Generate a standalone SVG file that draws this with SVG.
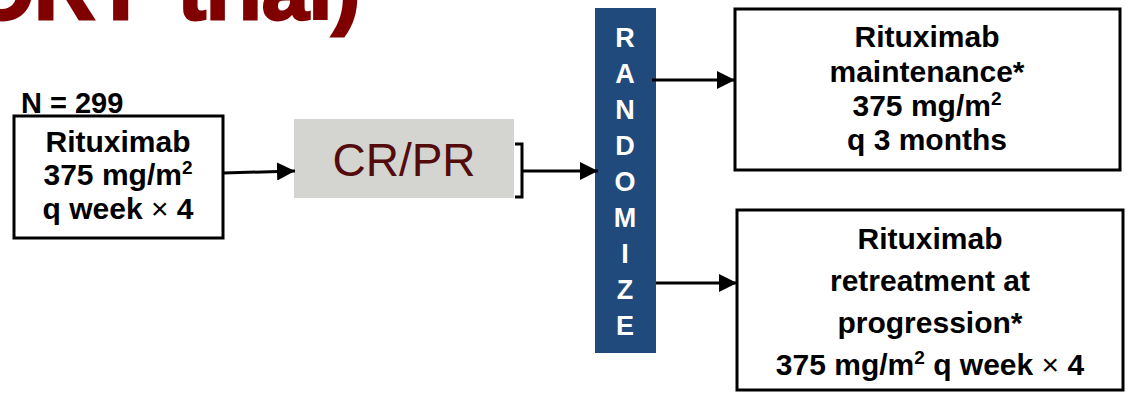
<svg xmlns="http://www.w3.org/2000/svg" width="1127" height="398" viewBox="0 0 1127 398">
<style>
.box{fill:#fff;stroke:#000;stroke-width:3}
.t{font-family:"Liberation Sans",Arial,sans-serif;font-weight:bold;font-size:30px;fill:#000;text-anchor:middle}
.rl{font-family:"Liberation Sans",Arial,sans-serif;font-weight:bold;font-size:27px;fill:#fff;text-anchor:middle}
.ln{stroke:#000;stroke-width:3;fill:none}
.sup{font-size:19px}
.x{font-weight:normal}
</style>
<defs>
<marker id="ah" viewBox="0 0 10 10" refX="10" refY="5" markerWidth="6" markerHeight="6" markerUnits="strokeWidth" orient="auto">
<path d="M0,0 L10,5 L0,10 z" fill="#000"/>
</marker>
</defs>
<g id="title">
<text y="19" font-family="'Liberation Sans',Arial,sans-serif" font-weight="bold" font-size="84" fill="#800000" stroke="#800000" stroke-width="3"><tspan x="-31">ORT</tspan><tspan x="178">trial)</tspan></text>
</g>
<g id="n299">
<text x="21" y="113" font-family="'Liberation Sans',Arial,sans-serif" font-weight="bold" font-size="29" fill="#000">N = 299</text>
</g>
<g id="induction">
<rect class="box" x="14" y="116" width="209" height="122"/>
<text class="t" x="118" y="152">Rituximab</text>
<text class="t" x="118" y="185">375 mg/m<tspan class="sup" dy="-11">2</tspan></text>
<text class="t" x="118" y="219">q week <tspan class="x">×</tspan> 4</text>
</g>
<g id="crpr">
<rect x="294" y="119" width="220" height="79" fill="#d4d5d0"/>
<text x="404" y="176" font-family="'Liberation Sans',Arial,sans-serif" font-size="46" fill="#530b0b" text-anchor="middle">CR/PR</text>
</g>
<g id="randomize">
<rect x="595" y="8" width="61" height="345" fill="#214a7c"/>
<text class="rl" x="625" y="47">R</text>
<text class="rl" x="625" y="83">A</text>
<text class="rl" x="625" y="119">N</text>
<text class="rl" x="625" y="155">D</text>
<text class="rl" x="625" y="191">O</text>
<text class="rl" x="625" y="227">M</text>
<text class="rl" x="625" y="263">I</text>
<text class="rl" x="625" y="299">Z</text>
<text class="rl" x="625" y="335">E</text>
</g>
<g id="maintenance">
<rect class="box" x="735" y="9" width="385" height="161"/>
<text class="t" x="927" y="47">Rituximab</text>
<text class="t" x="927" y="82">maintenance*</text>
<text class="t" x="927" y="116">375 mg/m<tspan class="sup" dy="-11">2</tspan></text>
<text class="t" x="927" y="150">q 3 months</text>
</g>
<g id="retreatment">
<rect class="box" x="737" y="210" width="386" height="180"/>
<text class="t" x="930" y="249">Rituximab</text>
<text class="t" x="930" y="291">retreatment at</text>
<text class="t" x="930" y="333">progression*</text>
<text class="t" x="930" y="375">375 mg/m<tspan class="sup" dy="-11">2</tspan><tspan dy="11"> q week </tspan><tspan class="x">×</tspan> 4</text>
</g>
<g id="connectors">
<line class="ln" x1="223" y1="173" x2="295" y2="171" marker-end="url(#ah)"/>
<path class="ln" d="M515,144 H522 V197 H515"/>
<line class="ln" x1="522" y1="171" x2="598" y2="171" marker-end="url(#ah)"/>
<line class="ln" x1="652" y1="80" x2="735" y2="80" marker-end="url(#ah)"/>
<line class="ln" x1="656" y1="283" x2="737" y2="283" marker-end="url(#ah)"/>
</g>
</svg>
